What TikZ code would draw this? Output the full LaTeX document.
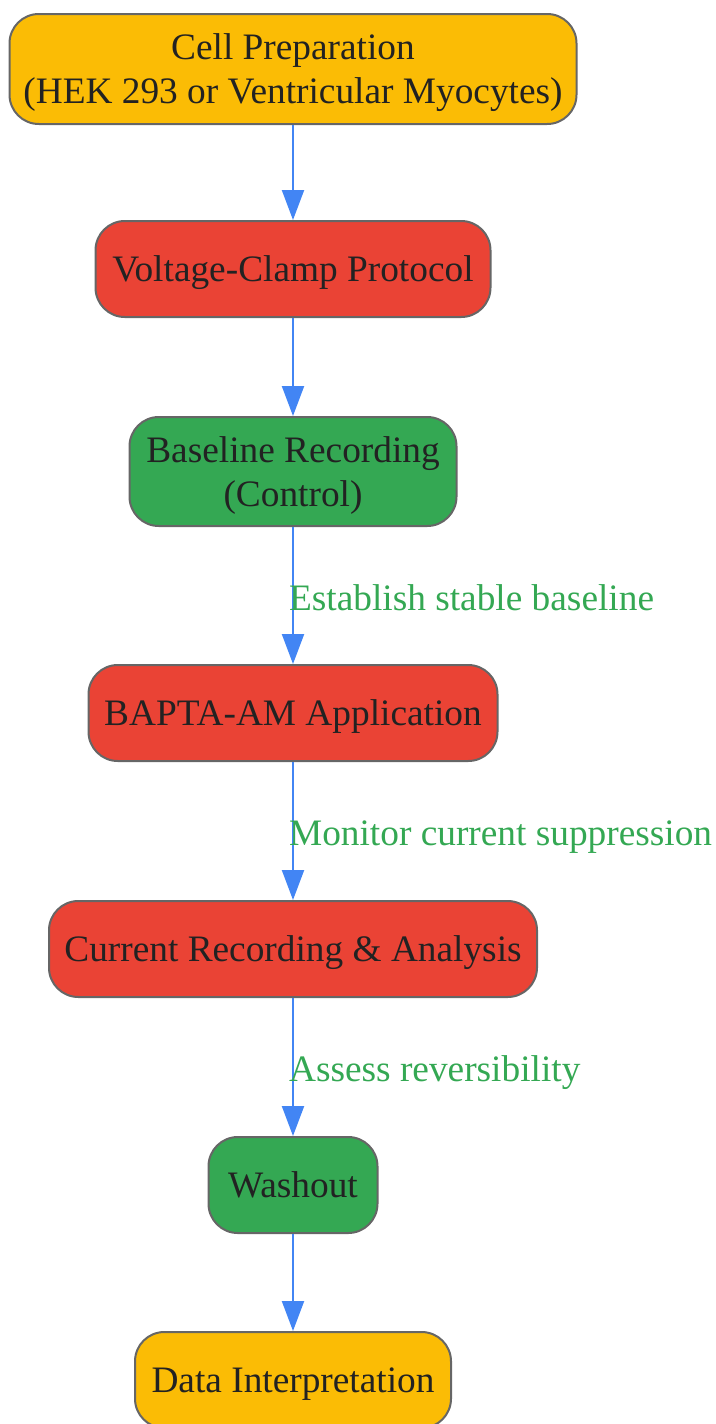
\documentclass[tikz,border=0pt]{standalone}
\usepackage{fontspec}
\setmainfont{Liberation Serif}
\usetikzlibrary{arrows.meta}
\definecolor{gyellow}{HTML}{FBBC05}
\definecolor{gred}{HTML}{EA4335}
\definecolor{ggreen}{HTML}{34A853}
\definecolor{gblue}{HTML}{4285F4}
\definecolor{edgegray}{HTML}{666666}
\definecolor{inkgray}{HTML}{222222}
\tikzset{>={Triangle[length=22.5pt,width=16.5pt]},
	box/.style={rectangle,rounded corners=22pt,draw=edgegray,line width=1.5pt,text=inkgray,minimum height=72pt,text depth=0pt,align=center,font=\fontsize{28}{33}\selectfont},
	ybox/.style={box,fill=gyellow},
	rbox/.style={box,fill=gred},
	gbox/.style={box,fill=ggreen},
	flow/.style={->,draw=gblue,line width=1.6pt},
	note/.style={anchor=west,inner sep=0pt,text depth=0pt,xshift=-3.75pt,yshift=-1.5pt,text=ggreen,font=\fontsize{28}{33}\selectfont}}

\begin{document}
\begin{tikzpicture}[x=0.75pt,y=-0.75pt]
	\useasboundingbox (0,0) rectangle (715,1424);
	\node (P) at (293,69) [ybox,minimum width=425.25pt,minimum height=82.5pt] {Cell Preparation\\(HEK 293 or Ventricular Myocytes)};
	\node (V) at (293,269) [rbox,minimum width=296.25pt] {Voltage-Clamp Protocol};
	\node (B) at (293,471.5) [gbox,minimum width=245.25pt,minimum height=81.75pt] {Baseline Recording\\(Control)};
	\node (A) at (293,713) [rbox,minimum width=306.75pt] {BAPTA-AM Application};
	\node (R) at (293,949) [rbox,minimum width=366pt] {Current Recording \& Analysis};
	\node (W) at (293,1185) [gbox,minimum width=126.75pt] {Washout};
	\node (D) at (293,1380) [ybox,minimum width=237pt] {Data Interpretation};
	\draw [flow] (P) -- (V);
	\draw [flow] (V) -- (B);
	\draw [flow] (B) -- node[note,pos=0.5]{Establish stable baseline} (A);
	\draw [flow] (A) -- node[note,pos=0.5]{Monitor current suppression} (R);
	\draw [flow] (R) -- node[note,pos=0.5]{Assess reversibility} (W);
	\draw [flow] (W) -- (D);
\end{tikzpicture}
\end{document}
